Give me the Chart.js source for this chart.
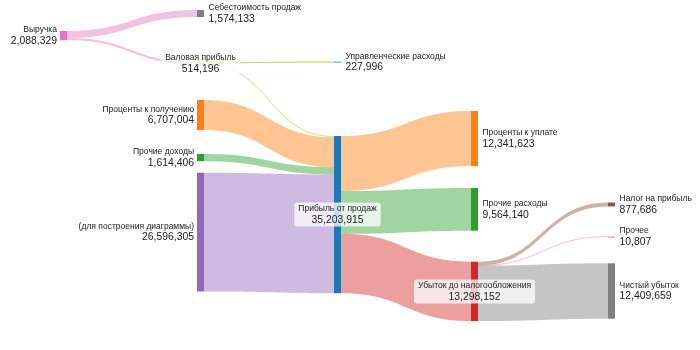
<!DOCTYPE html>
<html>
<head>
<meta charset="utf-8">
<script src="https://cdn.jsdelivr.net/npm/chart.js@4"></script>
<style>
  body { margin: 0; background: #fff; }
  #wrap { width: 700px; height: 350px; }
</style>
</head>
<body>
<div id="wrap"><canvas id="sankey"></canvas></div>
<script>
// === Données ===
const nodeLabels = [
  'Выручка', 'Себестоимость продаж', 'Валовая прибыль', 'Управленческие расходы',
  'Проценты к получению', 'Прочие доходы', '(для построения диаграммы)',
  'Прибыль от продаж', 'Проценты к уплате', 'Прочие расходы',
  'Убыток до налогообложения', 'Налог на прибыль', 'Прочее', 'Чистый убыток'
];
const linkSources = [0, 0, 2, 2, 4, 5, 6, 7, 7, 7, 10, 10, 10];
const linkTargets = [1, 2, 3, 7, 7, 7, 7, 8, 9, 10, 11, 12, 13];
const linkValues = [
  1574133, 514196, 227996, 286200, 6707004, 1614406, 26596305,
  12341623, 9564140, 13298152, 877686, 10807, 12409659
];

// === Mise en page (colonne, haut du nœud en millions sur l'axe y) ===
const nodeColumns = [0, 1, 1, 2, 1, 1, 1, 2, 3, 3, 3, 4, 4, 4];
const nodeTops = [6.94, 2.24, 13.96, 13.80, 22.40, 34.50, 38.69, 30.47, 24.87, 42.11, 58.62, 45.36, 52.98, 58.98];
const labelSides = ['left', 'right', 'center', 'right', 'left', 'left', 'left', 'center', 'right', 'right', 'center', 'right', 'right', 'right'];
const nodeColors = ['#e377c2', '#7f7f7f', '#bcbd22', '#17becf', '#ff7f0e', '#2ca02c', '#9467bd',
  '#1f77b4', '#ff7f0e', '#2ca02c', '#d62728', '#8c564b', '#e377c2', '#7f7f7f'];
const linkColors = ['#e377c2', '#e377c2', '#bcbd22', '#bcbd22', '#ff7f0e', '#2ca02c', '#9467bd',
  '#ff7f0e', '#2ca02c', '#d62728', '#8c564b', '#e377c2', '#7f7f7f'];

const NODE_W = 7;
const FONT = '"Liberation Sans", Arial, sans-serif';
const NAME_FONT = `8.5px ${FONT}`;
const VALUE_FONT = `10.4px ${FONT}`;

function hexA(hex, a) {
  const n = parseInt(hex.slice(1), 16);
  return `rgba(${n >> 16},${(n >> 8) & 255},${n & 255},${a})`;
}

// valeur de chaque nœud = max(entrées, sorties)
const nodeValues = nodeLabels.map((_, i) => {
  let inp = 0, out = 0;
  linkValues.forEach((v, k) => {
    if (linkTargets[k] === i) inp += v;
    if (linkSources[k] === i) out += v;
  });
  return Math.max(inp, out);
});

const sankeyPlugin = {
  id: 'sankey',
  afterDatasetsDraw(chart) {
    const { ctx, scales: { x, y } } = chart;
    const M = 1e6;
    const nodeX = i => x.getPixelForValue(nodeColumns[i]);
    const nodeTop = i => y.getPixelForValue(nodeTops[i]);
    const nodeBot = i => y.getPixelForValue(nodeTops[i] + nodeValues[i] / M);
    const nodeMid = i => (nodeTop(i) + nodeBot(i)) / 2;

    // offsets des liens dans chaque nœud, triés par position verticale
    const outOff = {}, inOff = {};
    nodeLabels.forEach((_, i) => {
      let acc = nodeTops[i];
      linkValues.map((v, k) => k).filter(k => linkSources[k] === i)
        .sort((a, b) => nodeMid(linkTargets[a]) - nodeMid(linkTargets[b]))
        .forEach(k => { outOff[k] = acc; acc += linkValues[k] / M; });
      acc = nodeTops[i];
      linkValues.map((v, k) => k).filter(k => linkTargets[k] === i)
        .sort((a, b) => nodeMid(linkSources[a]) - nodeMid(linkSources[b]))
        .forEach(k => { inOff[k] = acc; acc += linkValues[k] / M; });
    });

    ctx.save();
    // liens
    linkValues.forEach((v, k) => {
      const s = linkSources[k], t = linkTargets[k];
      const x0 = nodeX(s) + NODE_W, x1 = nodeX(t);
      const xm = (x0 + x1) / 2;
      const y0a = y.getPixelForValue(outOff[k]), y0b = y.getPixelForValue(outOff[k] + v / M);
      const y1a = y.getPixelForValue(inOff[k]), y1b = y.getPixelForValue(inOff[k] + v / M);
      ctx.fillStyle = hexA(linkColors[k], 0.45);
      ctx.beginPath();
      ctx.moveTo(x0, y0a);
      ctx.bezierCurveTo(xm, y0a, xm, y1a, x1, y1a);
      ctx.lineTo(x1, y1b);
      ctx.bezierCurveTo(xm, y1b, xm, y0b, x0, y0b);
      ctx.closePath();
      ctx.fill();
      if (y0b - y0a < 1.2) {
        const c0 = (y0a + y0b) / 2, c1 = (y1a + y1b) / 2;
        ctx.strokeStyle = hexA(linkColors[k], 0.45);
        ctx.lineWidth = 1;
        ctx.beginPath();
        ctx.moveTo(x0, c0);
        ctx.bezierCurveTo(xm, c0, xm, c1, x1, c1);
        ctx.stroke();
      }
    });

    // nœuds
    nodeLabels.forEach((_, i) => {
      const top = nodeTop(i), h = Math.max(nodeBot(i) - top, 1);
      ctx.fillStyle = nodeColors[i];
      ctx.fillRect(nodeX(i), top, NODE_W, h);
    });

    // étiquettes
    ctx.textBaseline = 'middle';
    nodeLabels.forEach((label, i) => {
      const mid = nodeMid(i);
      const val = nodeValues[i].toLocaleString('en-US');
      const side = labelSides[i];
      let tx;
      if (side === 'left') { ctx.textAlign = 'right'; tx = nodeX(i) - 3; }
      else if (side === 'right') { ctx.textAlign = 'left'; tx = nodeX(i) + NODE_W + 4.5; }
      else {
        ctx.textAlign = 'center'; tx = nodeX(i) + NODE_W / 2;
        ctx.font = NAME_FONT;
        const w1 = ctx.measureText(label).width;
        ctx.font = VALUE_FONT;
        const w2 = ctx.measureText(val).width;
        const bw = Math.max(w1, w2) + 8;
        ctx.fillStyle = 'rgba(255,255,255,0.75)';
        ctx.beginPath();
        ctx.roundRect(tx - bw / 2, mid - 12, bw, 24, 3);
        ctx.fill();
      }
      ctx.fillStyle = '#222';
      ctx.font = NAME_FONT;
      ctx.fillText(label, tx, mid - 5.5);
      ctx.font = VALUE_FONT;
      ctx.fillText(val, tx, mid + 5.5);
    });
    ctx.restore();
  }
};

new Chart(document.getElementById('sankey'), {
  type: 'scatter',
  data: { datasets: [{ data: [], pointRadius: 0 }] },
  options: {
    responsive: true,
    maintainAspectRatio: false,
    animation: false,
    layout: { padding: { left: 60, right: 92, top: 0, bottom: 0 } },
    plugins: { legend: { display: false }, tooltip: { enabled: false } },
    scales: {
      x: { display: false, min: 0, max: 4 },
      y: { display: false, min: 0, max: 78.4, reverse: true }
    }
  },
  plugins: [sankeyPlugin]
});
</script>
</body>
</html>
